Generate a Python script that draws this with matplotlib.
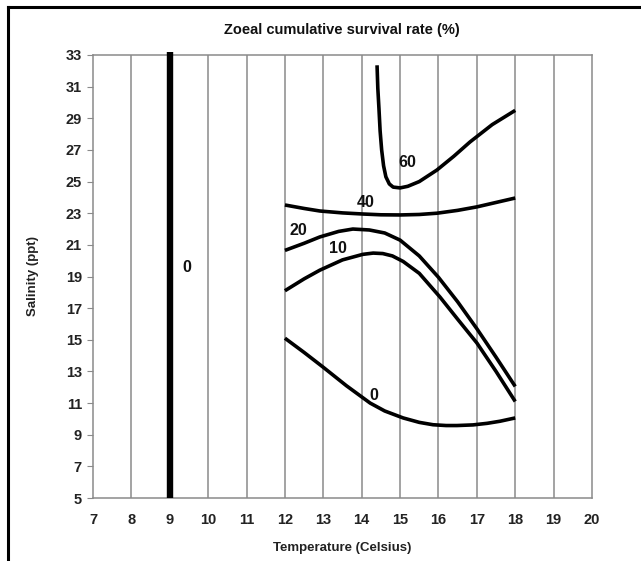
import matplotlib
matplotlib.use("Agg")
import matplotlib.pyplot as plt
from matplotlib.lines import Line2D

plt.rcParams['font.family'] = ['Liberation Sans', 'DejaVu Sans']

# ---- data ----
x_ticks = list(range(7, 21))
y_ticks = list(range(5, 34, 2))

zero_left_x = [9, 9]
zero_left_y = [5, 33.2]

c60_x = [14.40, 14.42, 14.45, 14.48, 14.52, 14.57, 14.63, 14.72, 14.82, 15.0, 15.2, 15.5, 15.96, 16.4, 16.82, 17.4, 18.0]
c60_y = [32.35, 30.9, 29.6, 28.2, 27.0, 26.0, 25.3, 24.85, 24.65, 24.6, 24.7, 25.0, 25.73, 26.6, 27.5, 28.6, 29.5]

c40_x = [12.0, 12.5, 12.91, 13.5, 14.03, 14.5, 15.0, 15.5, 15.96, 16.5, 17.0, 17.5, 18.0]
c40_y = [23.52, 23.3, 23.14, 23.02, 22.95, 22.9, 22.89, 22.92, 23.0, 23.18, 23.4, 23.68, 23.96]

c20_x = [12.0, 12.5, 12.91, 13.4, 13.77, 14.2, 14.6, 15.0, 15.5, 16.0, 16.5, 17.0, 17.5, 18.0]
c20_y = [20.65, 21.1, 21.5, 21.85, 22.0, 21.94, 21.75, 21.3, 20.3, 18.95, 17.4, 15.7, 13.9, 12.05]

c10_x = [12.0, 12.5, 12.91, 13.5, 14.03, 14.3, 14.55, 14.8, 15.08, 15.5, 16.04, 16.5, 17.0, 17.5, 18.0]
c10_y = [18.1, 18.85, 19.4, 20.05, 20.4, 20.48, 20.45, 20.3, 19.95, 19.2, 17.7, 16.3, 14.8, 13.0, 11.1]

c0_x = [12.0, 12.5, 12.99, 13.6, 14.22, 14.6, 15.08, 15.5, 15.86, 16.2, 16.48, 16.9, 17.27, 17.6, 18.0]
c0_y = [15.1, 14.2, 13.28, 12.1, 11.0, 10.5, 10.06, 9.78, 9.63, 9.58, 9.58, 9.62, 9.72, 9.85, 10.06]

labels = ["60", "40", "20", "10", "0", "0"]
label_x = [15.2, 14.1, 12.34, 13.38, 14.32, 9.45]
label_y = [26.2, 23.65, 21.9, 20.8, 11.5, 19.6]

# ---- figure ----
fig = plt.figure(figsize=(6.41, 5.61), dpi=100)
ax = fig.add_axes([93/641, 1-498/561, (592-93)/641, (498-55)/561])
ax.set_xlim(7, 20)
ax.set_ylim(5, 33)

grid_c = '#8a8a8a'
for xv in x_ticks[1:-1]:
    ax.axvline(xv, color=grid_c, lw=1.1, zorder=1)
for s in ax.spines.values():
    s.set_color(grid_c)
    s.set_linewidth(1.1)

ax.set_xticks(x_ticks)
ax.set_yticks(y_ticks)
ax.tick_params(axis='x', length=0, pad=11, labelsize=10.5)
ax.tick_params(axis='y', length=4, color=grid_c, direction='out', pad=4, labelsize=10.5)
for t in ax.get_xticklabels() + ax.get_yticklabels():
    t.set_fontweight('bold')
    t.set_color('#222222')

lw = 2.6
ax.plot(zero_left_x, zero_left_y, color='black', lw=4.6, solid_capstyle='butt', zorder=3, clip_on=False)
for xs, ys in [(c60_x, c60_y), (c40_x, c40_y), (c20_x, c20_y), (c10_x, c10_y), (c0_x, c0_y)]:
    ax.plot(xs, ys, color='black', lw=lw, zorder=3, solid_joinstyle='round', solid_capstyle='butt')

for lab, lx, ly in zip(labels, label_x, label_y):
    ax.text(lx, ly, lab, ha='center', va='center', fontsize=11.5, fontweight='bold', color='#111111', zorder=4)

fig.text(342/641, 1-30/561, "Zoeal cumulative survival rate (%)", ha='center', va='center',
         fontsize=10.5, fontweight='bold', color='#111111')
fig.text(342/641, 1-548/561, "Temperature (Celsius)", ha='center', va='center',
         fontsize=9.5, fontweight='bold', color='#222222')
fig.text(33/641, 1-276/561, "Salinity (ppt)", ha='center', va='center', rotation=90,
         fontsize=9.5, fontweight='bold', color='#222222')

# border frame (left and top)
fig.add_artist(Line2D([8/641, 8/641], [0, 1-7/561], color='black', lw=2.2, transform=fig.transFigure))
fig.add_artist(Line2D([8/641, 1], [1-7/561, 1-7/561], color='black', lw=2.2, transform=fig.transFigure))

fig.savefig("out.png", dpi=100)
